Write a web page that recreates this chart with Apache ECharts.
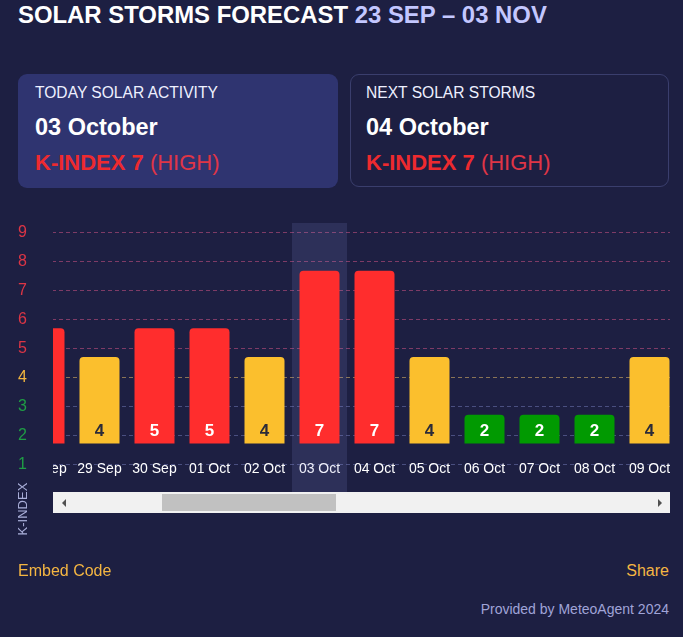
<!DOCTYPE html>
<html>
<head>
<meta charset="utf-8">
<script src="https://cdn.jsdelivr.net/npm/echarts@6/dist/echarts.min.js"></script>
<style>
html,body{margin:0;padding:0;width:683px;height:637px;overflow:hidden;background:#1d1f42;font-family:Arial,"Liberation Sans",sans-serif;}
.abs{position:absolute;white-space:nowrap;}
.card{position:absolute;box-sizing:border-box;border-radius:9px;}
.cap{font-size:15.6px;line-height:20px;color:#eef0ff;}
.date{font-size:23.5px;line-height:24px;font-weight:bold;color:#ffffff;}
.kidx{font-size:22px;line-height:24px;color:#e03546;}
.kidx b{color:#ee2a2f;}
</style>
</head>
<body>
<div class="abs" style="left:18px;top:2.7px;font-size:23.9px;line-height:24px;font-weight:bold;color:#ffffff">SOLAR STORMS FORECAST <span style="color:#c3c7ff">23 SEP – 03 NOV</span></div>

<div class="card" style="left:18px;top:74px;width:320px;height:114px;background:#2f3470;"></div>
<div class="card" style="left:350px;top:74px;width:319px;height:113px;border:1px solid #3a3e6d;"></div>

<div class="abs cap" style="left:35px;top:83px">TODAY SOLAR ACTIVITY</div>
<div class="abs date" style="left:35px;top:114.7px">03 October</div>
<div class="abs kidx" style="left:35px;top:151.3px"><b>K-INDEX 7</b> (HIGH)</div>

<div class="abs cap" style="left:366px;top:83px">NEXT SOLAR STORMS</div>
<div class="abs date" style="left:366px;top:114.7px">04 October</div>
<div class="abs kidx" style="left:366px;top:151.3px"><b>K-INDEX 7</b> (HIGH)</div>

<div id="yax" style="position:absolute;left:0;top:200px;width:53px;height:300px"></div>
<div id="clip" style="position:absolute;left:53px;top:200px;width:617px;height:300px;overflow:hidden">
  <div id="main" style="position:absolute;left:-36.5px;top:0;width:660px;height:300px"></div>
</div>

<div class="abs" style="left:-7.5px;top:501px;width:60px;height:16px;line-height:16px;text-align:center;font-size:13px;color:#a9aed9;transform:rotate(-90deg)">K-INDEX</div>

<!-- scroll strip under the chart -->
<div style="position:absolute;left:53px;top:492px;width:617px;height:21px;background:#f1f1f1;z-index:5"></div>
<div style="position:absolute;left:162px;top:494px;width:174px;height:17px;background:#c1c1c1;z-index:6"></div>
<div style="position:absolute;left:62px;top:498.5px;width:0;height:0;border-top:4px solid transparent;border-bottom:4px solid transparent;border-right:4px solid #505050;z-index:6"></div>
<div style="position:absolute;left:658px;top:498.5px;width:0;height:0;border-top:4px solid transparent;border-bottom:4px solid transparent;border-left:4px solid #505050;z-index:6"></div>

<div class="abs" style="left:18px;top:561px;font-size:16px;line-height:20px;color:#f5b642">Embed Code</div>
<div class="abs" style="right:14px;top:561px;font-size:16px;line-height:20px;color:#f5b642">Share</div>
<div class="abs" style="right:14px;top:599px;font-size:14px;line-height:20px;color:#a0a4d8">Provided by MeteoAgent 2024</div>

<script>
// ---- data ----
const dates = ['28 Sep','29 Sep','30 Sep','01 Oct','02 Oct','03 Oct','04 Oct','05 Oct','06 Oct','07 Oct','08 Oct','09 Oct'];
const kIndex = [5, 4, 5, 5, 4, 7, 7, 4, 2, 2, 2, 4];
const yTickLabels = ['1','2','3','4','5','6','7','8','9'];
const todayLabel = '03 Oct';

// ---- styles ----
function barColor(k){ return k >= 5 ? '#ff2d2d' : (k === 4 ? '#fbbf2d' : '#019a01'); }
function labelTextColor(k){ return k === 4 ? '#2b2b38' : '#ffffff'; }
function tickColor(k){ return k >= 5 ? '#dc3545' : (k === 4 ? '#f2b53f' : '#1f9d45'); }
function lineColor(k){
  if (k < 1 || k > 9) return 'rgba(0,0,0,0)';
  return k >= 5 ? '#7e3b66' : (k === 4 ? '#8a7456' : '#4a4f80');
}
const lineColors = [];
for (let i = 0; i <= 10; i++) lineColors.push(lineColor(i));

const barData = kIndex.map(k => ({
  value: k,
  itemStyle: { color: barColor(k) },
  label: { color: labelTextColor(k) }
}));

const FONT = 'Arial, "Liberation Sans", sans-serif';
const LEVEL_MAX = 9.3276;

// ---- main chart ----
const main = echarts.init(document.getElementById('main'), null, {renderer:'canvas'});
main.setOption({
  animation: false,
  textStyle: { fontFamily: FONT },
  grid: [
    { left: 0, right: 0, top: 23, bottom: 6.5 },
    { left: 0, right: 0, top: 23, bottom: 56.5 }
  ],
  xAxis: [
    {
      type: 'category', gridIndex: 0, data: dates,
      axisLine: { show: false }, axisTick: { show: false }, splitLine: { show: false },
      axisLabel: { inside: true, margin: 17, color: '#ffffff', fontSize: 14, interval: 0, fontFamily: FONT },
      axisPointer: {
        show: true, type: 'shadow', value: dates.indexOf(todayLabel), status: 'show',
        triggerOn: 'none', triggerTooltip: false, label: { show: false },
        shadowStyle: { color: 'rgba(140,150,220,0.15)' }, z: 1
      }
    },
    { type: 'category', gridIndex: 1, data: dates, show: false }
  ],
  yAxis: [
    {
      type: 'value', gridIndex: 0, min: 0, max: LEVEL_MAX, interval: 1,
      axisLabel: { show: false }, axisLine: { show: false }, axisTick: { show: false },
      splitLine: { show: true, lineStyle: { type: [4, 3], width: 1, color: lineColors } }
    },
    { type: 'value', gridIndex: 1, min: 1, max: 8.656, show: false, splitLine: { show: false } }
  ],
  series: [{
    type: 'bar', xAxisIndex: 1, yAxisIndex: 1, barWidth: 40, clip: true,
    data: barData,
    itemStyle: { borderRadius: [4, 4, 0, 0] },
    label: { show: true, position: 'insideBottom', distance: 4, fontSize: 17, fontWeight: 'bold', fontFamily: FONT }
  }]
});

// ---- y axis labels ----
const yax = echarts.init(document.getElementById('yax'), null, {renderer:'canvas'});
yax.setOption({
  animation: false,
  grid: { left: 31, right: 12, top: 23, bottom: 6.5 },
  xAxis: { type: 'value', show: false },
  yAxis: {
    type: 'value', min: 0, max: LEVEL_MAX, interval: 1,
    axisLine: { show: false }, axisTick: { show: false }, splitLine: { show: false },
    axisLabel: {
      margin: 8.5, align: 'center', fontSize: 16, fontFamily: FONT, padding: [0, 0, 5, 0],
      formatter: v => (Number.isInteger(v) && v >= 1 && v <= 9) ? yTickLabels[v - 1] : '',
      color: v => tickColor(Math.round(v))
    }
  },
  series: []
});
</script>
</body>
</html>
